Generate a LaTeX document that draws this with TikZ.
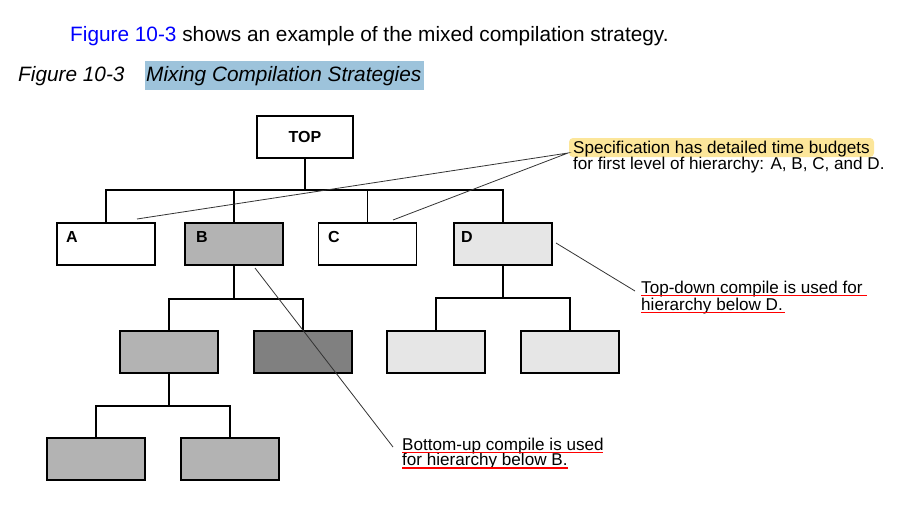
\documentclass[tikz,border=0pt]{standalone}
\usepackage{fontspec}
\setmainfont{Liberation Sans}
\definecolor{midgray}{HTML}{B3B3B3}
\definecolor{darkgray2}{HTML}{808080}
\definecolor{lightgray2}{HTML}{E6E6E6}
\definecolor{capblue}{HTML}{9DC3DB}
\definecolor{hiyellow}{HTML}{FCE69A}
\definecolor{linkblue}{HTML}{0000FF}
\begin{document}
\begin{tikzpicture}[x=1pt,y=-1pt,
  box/.style={draw=black, line width=1.2pt, minimum width=98pt, minimum height=42pt, inner sep=0pt},
  conn/.style={line width=1.2pt},
  callout/.style={line width=0.8pt, draw=black!80},
  note/.style={font=\fontsize{17.1}{17}\selectfont, anchor=base west, inner sep=0pt},
  head/.style={font=\fontsize{20.8}{21}\selectfont, anchor=base west, inner sep=0pt},
  lbl/.style={font=\fontsize{16}{16}\selectfont\bfseries, anchor=base west, inner sep=0pt},
  uline/.style={draw=red, line width=1.1pt}
]
\useasboundingbox (0,0) rectangle (908,517);

% heading and caption
\node[head] (intro) at (70,41) {\textcolor{linkblue}{Figure 10-3} shows an example of the mixed compilation strategy.};
\fill[capblue] (145,61) rectangle (424,90);
\node[head, font=\fontsize{20.8}{21}\selectfont\itshape] (capnum) at (18,81) {Figure 10-3};
\node[head, font=\fontsize{20.8}{21}\selectfont\itshape] (captxt) at (146,81) {Mixing Compilation Strategies};

% boxes
\node[box, minimum width=96pt] (TOP) at (305,137) {\fontsize{16}{16}\selectfont\bfseries TOP};
\node[box] (A) at (106,244) {};
\node[box, fill=midgray] (B) at (234,244) {};
\node[box] (C) at (367.5,244) {};
\node[box, fill=lightgray2] (D) at (503,244) {};
\node[lbl] (la) at (66,242) {A};
\node[lbl] (lb) at (196,242) {B};
\node[lbl] (lc) at (328,242) {C};
\node[lbl] (ld) at (461,242) {D};

\node[box, fill=midgray] (B1) at (169,352) {};
\node[box, fill=darkgray2] (B2) at (303,352) {};
\node[box, fill=lightgray2] (D1) at (436,352) {};
\node[box, fill=lightgray2] (D2) at (570,352) {};
\node[box, fill=midgray] (G1) at (96,459) {};
\node[box, fill=midgray] (G2) at (230,459) {};

% tree connectors
\coordinate (bar1) at (0,190);
\coordinate (bar2) at (0,299);
\coordinate (bar3) at (0,298);
\coordinate (bar4) at (0,406);
\draw[conn] (TOP.south) -- (TOP.south |- bar1);
\draw[conn] (A.north) |- (D.north |- bar1) -- (D.north);
\draw[conn] (B.north) -- (B.north |- bar1);
\draw[conn] (C.north) -- (C.north |- bar1);
\draw[conn] (B.south) -- (B.south |- bar2);
\draw[conn] (B1.north) |- (B2.north |- bar2) -- (B2.north);
\draw[conn] (D.south) -- (D.south |- bar3);
\draw[conn] (D1.north) |- (D2.north |- bar3) -- (D2.north);
\draw[conn] (B1.south) -- (B1.south |- bar4);
\draw[conn] (G1.north) |- (G2.north |- bar4) -- (G2.north);

% callout texts
\fill[hiyellow, rounded corners=4pt] (569,138) rectangle (874,157);
\node[note] (spec1) at (573,153) {Specification has detailed time budgets};
\node[note] (spec2) at (573,169) {for first level of hierarchy: A, B, C, and D.};
\node[note] (td1) at (641,293) {Top-down compile is used for};
\node[note] (td2) at (641,310) {hierarchy below D.};
\node[note] (bu1) at (402,450) {Bottom-up compile is used};
\node[note] (bu2) at (402,465.5) {for hierarchy below B.};
\draw[uline] (641,295.5) -- (867,295.5);
\draw[uline] (641,312.5) -- (785,312.5);
\draw[uline] (402,452.5) -- (603,452.5);
\draw[uline] (402,468) -- (568,468);

% callout lines
\coordinate (sp) at (568,153);
\coordinate (sa) at (137,219);
\coordinate (sc) at (393,220);
\draw[callout] (sa) -- (sp) -- (sc);
\coordinate (tds) at (556,243);
\coordinate (tde) at (635,291);
\draw[callout] (tds) -- (tde);
\coordinate (bus) at (255,268);
\coordinate (bue) at (393,447);
\draw[callout] (bus) -- (bue);
\end{tikzpicture}
\end{document}
